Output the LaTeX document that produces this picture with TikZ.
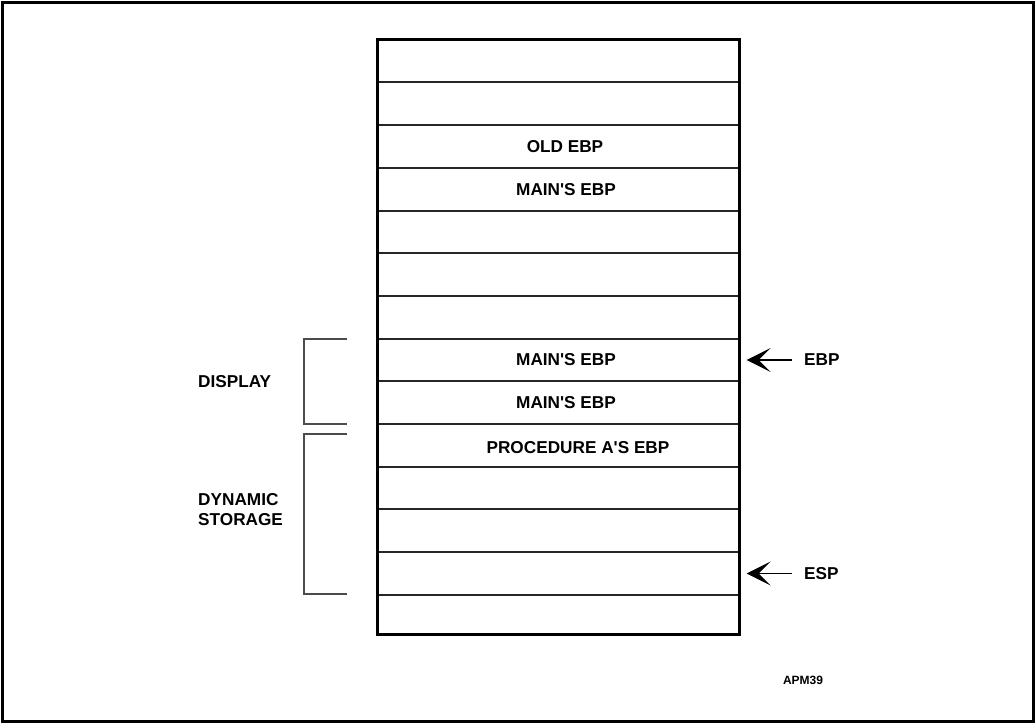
\documentclass[tikz,border=0pt]{standalone}
\usepackage{fontspec}
\newfontfamily\lab{Liberation Sans}[Ligatures=TeXOff]
\usetikzlibrary{fit,arrows.meta}
\begin{document}
\begin{tikzpicture}[x=1pt,y=-1pt,
  cell/.style={draw=black!85, line width=1.2pt, inner sep=0pt},
  txt/.style={font=\lab\bfseries\fontsize{17.2}{20}\selectfont, inner sep=0pt},
  small/.style={font=\lab\bfseries\fontsize{12}{14}\selectfont, inner sep=0pt},
  brk/.style={draw=black!70, line width=1.2pt},
  arr/.style={draw=black, line width=1.1pt, -{Stealth[length=24pt,width=24pt,inset=12pt]}}]
\useasboundingbox (0,0) rectangle (1035,724);
\draw[line width=3pt] (2.5,2.5) rectangle (1033,721);
% cells
\node[cell, fit={(378,40)(739,82)}] (c1) {};
\node[cell, fit={(378,82)(739,125)}] (c2) {};
\node[cell, fit={(378,125)(739,168)}] (c3) {};
\node[cell, fit={(378,168)(739,211)}] (c4) {};
\node[cell, fit={(378,211)(739,253)}] (c5) {};
\node[cell, fit={(378,253)(739,296)}] (c6) {};
\node[cell, fit={(378,296)(739,339)}] (c7) {};
\node[cell, fit={(378,339)(739,381)}] (c8) {};
\node[cell, fit={(378,381)(739,424)}] (c9) {};
\node[cell, fit={(378,424)(739,467)}] (c10) {};
\node[cell, fit={(378,467)(739,509)}] (c11) {};
\node[cell, fit={(378,509)(739,552)}] (c12) {};
\node[cell, fit={(378,552)(739,595)}] (c13) {};
\node[cell, fit={(378,595)(739,634)}] (c14) {};
\draw[line width=2.6pt] (c1.north west) rectangle (c14.south east);
% texts
\node[txt] (t3) at (565,146.5) {OLD EBP};
\node[txt] (t4) at (566,189.5) {MAIN'S EBP};
\node[txt] (t8) at (566,360) {MAIN'S EBP};
\node[txt] (t9) at (566,402.5) {MAIN'S EBP};
\node[txt] (t10) at (578,448) {PROCEDURE A'S EBP};
% brackets
\draw[brk] (347,339) -- (304,339) -- (304,424) -- (347,424);
\draw[brk] (347,434) -- (304,434) -- (304,594) -- (347,594);
\node[txt, anchor=west] (disp) at (198,382) {DISPLAY};
\node[txt, anchor=west, align=left] (dyn) at (198,510) {DYNAMIC\\STORAGE};
% pointers
\node[txt, anchor=west] (ebp) at (804,360) {EBP};
\node[txt, anchor=west] (esp) at (804,573.5) {ESP};
\draw[arr] ([xshift=-12pt]ebp.west) -- ([xshift=7pt]c8.east);
\draw[arr] ([xshift=-12pt]esp.west) -- ([xshift=7pt]c13.east);
\node[small] (apm) at (803,680) {APM39};
\end{tikzpicture}
\end{document}
